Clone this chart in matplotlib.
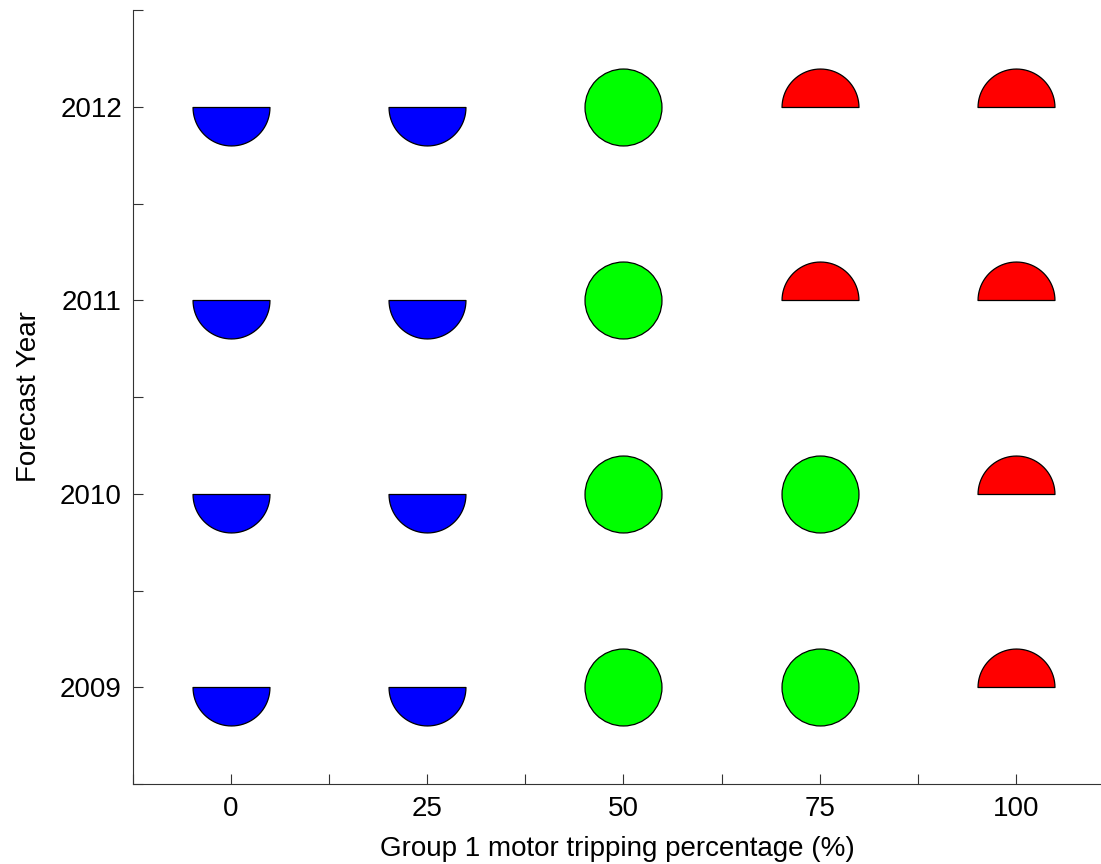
import matplotlib
matplotlib.use("Agg")
import matplotlib.pyplot as plt
from matplotlib.path import Path
import numpy as np

plt.rcParams['font.family'] = ['Liberation Sans', 'DejaVu Sans']

percentages = [0, 25, 50, 75, 100]
years = [2009, 2010, 2011, 2012]
# status per (year, percentage): 'low' = blue lower half, 'ok' = green circle, 'high' = red upper half
status = {
    2009: ['low', 'low', 'ok', 'ok', 'high'],
    2010: ['low', 'low', 'ok', 'ok', 'high'],
    2011: ['low', 'low', 'ok', 'high', 'high'],
    2012: ['low', 'low', 'ok', 'high', 'high'],
}
x_ticks = [-12.5, 0, 12.5, 25, 37.5, 50, 62.5, 75, 87.5, 100]
x_labels = ['', '0', '', '25', '', '50', '', '75', '', '100']
y_ticks = [2008.5, 2009, 2009.5, 2010, 2010.5, 2011, 2011.5, 2012, 2012.5]
y_labels = ['', '2009', '', '2010', '', '2011', '', '2012', '']


def half_circle(upper):
    t = np.linspace(0, np.pi, 41)
    xs = np.cos(t)
    ys = np.sin(t) if upper else -np.sin(t)
    verts = list(zip(xs, ys)) + [(xs[0], ys[0])]
    return Path(verts, closed=True)

styles = {
    'low': dict(marker=half_circle(False), color='#0000ff'),
    'ok': dict(marker='o', color='#00ff00'),
    'high': dict(marker=half_circle(True), color='#ff0000'),
}

fig = plt.figure(figsize=(11.01, 8.64), dpi=100)
ax = fig.add_axes([133 / 1101, 1 - 784 / 864, 1 - 133 / 1101 + 0.001, (784 - 10) / 864])

ms = 55.4
for yr in years:
    for p, s in zip(percentages, status[yr]):
        st = styles[s]
        ax.plot([p], [yr], linestyle='none', marker=st['marker'], markersize=ms,
                markerfacecolor=st['color'], markeredgecolor='black',
                markeredgewidth=0.9)

ax.set_xlim(-12.5, 111)
ax.set_ylim(2008.5, 2012.5)
ax.set_xticks(x_ticks)
ax.set_xticklabels(x_labels)
ax.set_yticks(y_ticks)
ax.set_yticklabels(y_labels)
ax.spines['top'].set_visible(False)
ax.spines['right'].set_visible(False)
for sp in ('left', 'bottom'):
    ax.spines[sp].set_linewidth(0.8)
    ax.spines[sp].set_color('#333333')
ax.tick_params(direction='in', length=7.5, width=0.8, color='#333333', labelsize=20)
ax.tick_params(axis='x', pad=9)
ax.tick_params(axis='y', pad=8)
ax.set_xlabel('Group 1 motor tripping percentage (%)', fontsize=20, labelpad=10)
ax.set_ylabel('Forecast Year', fontsize=20, labelpad=13)

fig.savefig('out.png', dpi=100)
